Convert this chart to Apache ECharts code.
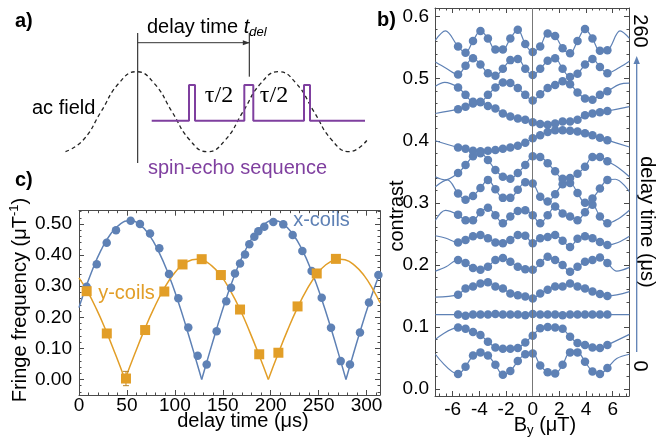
<!DOCTYPE html>
<html>
<head>
<meta charset="utf-8">
<title>Spin-echo fringe analysis</title>
<script src="https://cdn.jsdelivr.net/npm/echarts@6.0.0/dist/echarts.min.js"></script>
<style>
  html, body { margin: 0; padding: 0; background: #ffffff; }
  #chart { width: 668px; height: 439px; }
</style>
</head>
<body>
<div id="chart"></div>
<script>
// ---------------- data ----------------

// (b) field scan positions (μT)
const fieldB = [-5.6, -5.04, -4.48, -3.92, -3.36, -2.8, -2.24, -1.68, -1.12, -0.56, 0,
                0.56, 1.12, 1.68, 2.24, 2.8, 3.36, 3.92, 4.48, 5.04, 5.6];
// delay time of each trace (μs), bottom to top
const delayTimes = [0, 20, 40, 60, 80, 100, 120, 140, 160, 180, 200, 220, 240, 260];

// contrast (traces are offset upward by delay)
const contrast000 = [0.024, 0.036, 0.054, 0.059, 0.054, 0.039, 0.023, 0.029, 0.045, 0.056, 0.057, 0.038, 0.027, 0.025, 0.039, 0.059, 0.059, 0.044, 0.028, 0.024, 0.034];
const contrast020 = [0.099, 0.097, 0.092, 0.087, 0.076, 0.067, 0.065, 0.065, 0.066, 0.075, 0.086, 0.098, 0.100, 0.099, 0.097, 0.084, 0.074, 0.071, 0.067, 0.066, 0.071];
const contrast040 = [0.120, 0.118, 0.120, 0.120, 0.120, 0.121, 0.120, 0.120, 0.120, 0.119, 0.121, 0.120, 0.120, 0.120, 0.119, 0.120, 0.120, 0.120, 0.120, 0.120, 0.120];
const contrast060 = [0.152, 0.162, 0.165, 0.170, 0.172, 0.165, 0.162, 0.154, 0.151, 0.149, 0.146, 0.154, 0.160, 0.165, 0.165, 0.170, 0.165, 0.162, 0.157, 0.153, 0.150];
const contrast080 = [0.208, 0.203, 0.195, 0.192, 0.197, 0.208, 0.211, 0.205, 0.197, 0.193, 0.192, 0.203, 0.213, 0.208, 0.200, 0.189, 0.197, 0.205, 0.208, 0.212, 0.203];
const contrast100 = [0.236, 0.240, 0.246, 0.248, 0.243, 0.236, 0.235, 0.240, 0.248, 0.247, 0.235, 0.243, 0.245, 0.248, 0.239, 0.229, 0.242, 0.246, 0.243, 0.237, 0.232];
const contrast120 = [0.281, 0.272, 0.272, 0.285, 0.292, 0.280, 0.267, 0.278, 0.287, 0.288, 0.280, 0.267, 0.280, 0.294, 0.283, 0.278, 0.272, 0.285, 0.297, 0.278, 0.267];
const contrast140 = [0.315, 0.305, 0.311, 0.324, 0.337, 0.322, 0.308, 0.308, 0.321, 0.333, 0.331, 0.310, 0.302, 0.314, 0.330, 0.332, 0.316, 0.300, 0.307, 0.323, 0.337];
const contrast160 = [0.348, 0.361, 0.375, 0.380, 0.369, 0.353, 0.342, 0.339, 0.348, 0.361, 0.375, 0.374, 0.364, 0.351, 0.339, 0.340, 0.347, 0.358, 0.374, 0.374, 0.367];
const contrast180 = [0.389, 0.387, 0.384, 0.383, 0.384, 0.385, 0.387, 0.389, 0.392, 0.397, 0.404, 0.409, 0.414, 0.417, 0.417, 0.416, 0.415, 0.412, 0.409, 0.405, 0.401];
const contrast200 = [0.451, 0.455, 0.460, 0.462, 0.456, 0.452, 0.444, 0.439, 0.436, 0.434, 0.430, 0.427, 0.426, 0.428, 0.431, 0.431, 0.434, 0.441, 0.444, 0.446, 0.448];
const contrast220 = [0.486, 0.474, 0.463, 0.463, 0.474, 0.486, 0.494, 0.493, 0.485, 0.474, 0.465, 0.475, 0.485, 0.490, 0.496, 0.491, 0.478, 0.468, 0.466, 0.474, 0.480];
const contrast240 = [0.507, 0.521, 0.533, 0.523, 0.509, 0.505, 0.516, 0.530, 0.532, 0.516, 0.506, 0.516, 0.529, 0.533, 0.516, 0.503, 0.508, 0.523, 0.532, 0.519, 0.509];
const contrast260 = [0.552, 0.542, 0.561, 0.577, 0.565, 0.547, 0.547, 0.565, 0.579, 0.556, 0.543, 0.552, 0.573, 0.569, 0.549, 0.541, 0.561, 0.580, 0.565, 0.545, 0.546];
const contrastTraces = [contrast000, contrast020, contrast040, contrast060, contrast080, contrast100, contrast120,
                        contrast140, contrast160, contrast180, contrast200, contrast220, contrast240, contrast260];

// fitted fringe curves continue past the outermost points: [B, contrast]
const fitTailLeft = [
  [[-7.3, 0.056]], [[-7.3, 0.080]], [[-7.3, 0.120]], [[-7.3, 0.148]],
  [[-7.3, 0.190], [-6.5, 0.197]], [[-7.3, 0.247], [-6.5, 0.243]], [[-7.3, 0.272], [-6.55, 0.288]],
  [[-7.3, 0.326], [-6.4, 0.337]], [[-7.3, 0.342], [-6.6, 0.337]], [[-7.3, 0.400]],
  [[-7.3, 0.444]], [[-7.3, 0.488], [-6.6, 0.494]], [[-7.3, 0.527], [-6.5, 0.517]], [[-7.3, 0.562], [-6.55, 0.577]]
];
const fitTailRight = [
  [[6.3, 0.049], [7.25, 0.056]], [[7.25, 0.088]], [[7.25, 0.120]], [[7.25, 0.157]],
  [[6.3, 0.190], [7.25, 0.196]], [[6.4, 0.236], [7.25, 0.246]], [[6.4, 0.274], [7.25, 0.288]],
  [[6.2, 0.338], [7.25, 0.318]], [[6.4, 0.357], [7.25, 0.342]], [[7.25, 0.390]],
  [[7.25, 0.455]], [[6.5, 0.491], [7.25, 0.493]], [[6.5, 0.518], [7.25, 0.528]], [[6.55, 0.577], [7.25, 0.565]]
];

// (c) fringe frequency (μT^-1) vs delay time (μs)
const xCoilDelay = [8.0, 18.5, 28.9, 38.6, 53.9, 63.6, 74.1, 83.8, 93.9, 103.6, 114.0, 123.8, 133.2, 143.6, 153.6,
                    158.6, 162.7, 168.0, 173.2, 177.7, 182.9, 187.1, 193.3, 202.7, 213.1, 222.9, 233.0, 242.7,
                    253.2, 262.9, 273.0, 282.7, 293.1, 302.5, 312.3];
const xCoilFreq  = [0.298, 0.371, 0.440, 0.480, 0.511, 0.500, 0.470, 0.422, 0.339, 0.261, 0.167, 0.076, 0.048, 0.155, 0.252,
                    0.295, 0.341, 0.373, 0.402, 0.435, 0.459, 0.477, 0.491, 0.507, 0.499, 0.465, 0.413, 0.349,
                    0.263, 0.166, 0.059, 0.048, 0.151, 0.248, 0.336];
const yCoilDelay = [8, 29, 49, 69, 89, 108, 128, 148, 168, 188, 208, 228, 248, 268];
const yCoilFreq  = [0.284, 0.148, 0.003, 0.159, 0.283, 0.370, 0.387, 0.336, 0.225, 0.081, 0.086, 0.235, 0.341, 0.388];
const yCoilErr   = [0.006, 0.006, 0.023, 0.006, 0.006, 0.006, 0.006, 0.006, 0.006, 0.006, 0.006, 0.006, 0.006, 0.006];

// fitted |sinusoid| curves, one array per arch between the zero cusps: [delay, frequency]
const xCoilFit1 = [[0, 0.231], [3, 0.260], [13, 0.345], [23, 0.416], [33, 0.468], [43, 0.500], [53, 0.511], [63, 0.499],
                   [73, 0.466], [83, 0.412], [93, 0.341], [103, 0.255], [113, 0.157], [123, 0.053], [128, 0]];
const xCoilFit2 = [[128, 0], [133, 0.053], [143, 0.157], [153, 0.255], [163, 0.341], [173, 0.412], [183, 0.466],
                   [193, 0.499], [203, 0.511], [213, 0.500], [223, 0.468], [233, 0.416], [243, 0.345], [253, 0.260],
                   [263, 0.163], [273, 0.059], [278.5, 0]];
const xCoilFit3 = [[278.5, 0], [283, 0.048], [293, 0.152], [303, 0.249], [314, 0.344]];
const yCoilFit1 = [[0, 0.327], [8, 0.288], [18, 0.228], [28, 0.158], [38, 0.081], [48, 0]];
const yCoilFit2 = [[48, 0], [58, 0.081], [68, 0.158], [78, 0.228], [88, 0.288], [98, 0.336], [108, 0.369], [118, 0.385],
                   [123, 0.387], [128, 0.385], [138, 0.367], [148, 0.334], [158, 0.285], [168, 0.225], [178, 0.154],
                   [188, 0.077], [197.5, 0]];
const yCoilFit3 = [[197.5, 0], [207.5, 0.081], [217.5, 0.158], [227.5, 0.228], [237.5, 0.288], [247.5, 0.336],
                   [257.5, 0.369], [267.5, 0.385], [272.3, 0.387], [277.5, 0.385], [287.5, 0.367], [297.5, 0.334],
                   [307.5, 0.285], [314, 0.247]];

// tick values
const cDelayMajor = [0, 50, 100, 150, 200, 250, 300];
const cDelayMinor = [10, 20, 30, 40, 60, 70, 80, 90, 110, 120, 130, 140, 160, 170, 180, 190, 210, 220, 230, 240, 260, 270, 280, 290, 310];
const cFreqMajor = [0, 0.1, 0.2, 0.3, 0.4, 0.5];
const cFreqMinor = [-0.04, -0.02, 0.02, 0.04, 0.06, 0.08, 0.12, 0.14, 0.16, 0.18, 0.22, 0.24, 0.26, 0.28, 0.32, 0.34, 0.36, 0.38, 0.42, 0.44, 0.46, 0.48, 0.52, 0.54];
const bFieldMajor = [-6, -4, -2, 0, 2, 4, 6];
const bFieldMinor = [-7, -6.5, -5.5, -5, -4.5, -3.5, -3, -2.5, -1.5, -1, -0.5, 0.5, 1, 1.5, 2.5, 3, 3.5, 4.5, 5, 5.5, 6.5, 7];
const bContrastMajor = [0, 0.1, 0.2, 0.3, 0.4, 0.5, 0.6];
const bContrastMinor = [0.02, 0.04, 0.06, 0.08, 0.12, 0.14, 0.16, 0.18, 0.22, 0.24, 0.26, 0.28, 0.32, 0.34, 0.36, 0.38, 0.42, 0.44, 0.46, 0.48, 0.52, 0.54, 0.56, 0.58];

// (a) schematic, time in quarter periods of the ac field
const acPhase = [-2, -1.5, -1, -0.5, 0, 0.5, 1, 1.5, 2, 2.5, 3, 3.5, 4, 4.5, 5, 5.5, 6, 6.5];
const acField = [-1, -0.707, 0, 0.707, 1, 0.707, 0, -0.707, -1, -0.707, 0, 0.707, 1, 0.707, 0, -0.707, -1, -0.707];
const pulseTime  = [0.428, 1.479, 1.479, 1.648, 1.648, 3.037, 3.037, 3.29, 3.29, 4.718, 4.718, 4.887, 4.887, 6.437];
const pulseLevel = [-0.225, -0.225, 0.6675, 0.6675, -0.225, -0.225, 0.6675, 0.6675, -0.225, -0.225, 0.6675, 0.6675, -0.225, -0.225];
const delayStart = [[0.034, 1.9675], [0.034, -1.2825]];
const delayEnd = [[3.177, 1.9675], [3.177, 0.875]];
const delaySpan = [[0.034, 1.725], [3.177, 1.725]];

// ---------------- styling ----------------
const FONT = '"Liberation Sans", Arial, Helvetica, sans-serif';
const SERIF = '"Liberation Serif", "Times New Roman", serif';
const BLUE = '#5e81b5';
const ORANGE = '#e29e27';
const PURPLE = '#7f3f9f';
const FRAME = '#4a4a4a';

function axisPair(grid, position, range, majors, minors, label) {
  const common = {
    type: 'value', gridIndex: grid, position: position, min: range[0], max: range[1],
    splitLine: { show: false }, axisPointer: { show: false }, silent: true
  };
  const major = Object.assign({}, common, {
    axisLine: { show: true, onZero: false, lineStyle: { color: FRAME, width: 1 } },
    axisTick: { show: true, inside: true, length: 5, customValues: majors, lineStyle: { color: FRAME, width: 1 } },
    axisLabel: label
      ? Object.assign({ show: true, customValues: majors, color: '#000', fontSize: 19, fontFamily: FONT }, label)
      : { show: false }
  });
  const minor = Object.assign({}, common, {
    axisLine: { show: false, onZero: false },
    axisTick: { show: true, inside: true, length: 2.5, customValues: minors, lineStyle: { color: FRAME, width: 1 } },
    axisLabel: { show: false }
  });
  return [major, minor];
}

const cDelayRange = [0, 314];
const cFreqRange = [-0.05, 0.543];
const bFieldRange = [-7.33, 7.22];
const bContrastRange = [-0.0113, 0.614];

const xAxes = [
  { type: 'value', gridIndex: 0, min: -2.1, max: 6.6, show: false },
  ...axisPair(1, 'bottom', cDelayRange, cDelayMajor, cDelayMinor, { margin: 1, formatter: v => String(v) }),
  ...axisPair(1, 'top', cDelayRange, cDelayMajor, cDelayMinor, null),
  ...axisPair(2, 'bottom', bFieldRange, bFieldMajor, bFieldMinor, { margin: 4, formatter: v => String(v) }),
  ...axisPair(2, 'top', bFieldRange, bFieldMajor, bFieldMinor, null)
];
const yAxes = [
  { type: 'value', gridIndex: 0, min: -1.35, max: 2.05, show: false },
  ...axisPair(1, 'left', cFreqRange, cFreqMajor, cFreqMinor, { margin: 7, formatter: v => v.toFixed(2) }),
  ...axisPair(1, 'right', cFreqRange, cFreqMajor, cFreqMinor, null),
  ...axisPair(2, 'left', bContrastRange, bContrastMajor, bContrastMinor, { margin: 6, formatter: v => v.toFixed(1) }),
  ...axisPair(2, 'right', bContrastRange, bContrastMajor, bContrastMinor, null)
];

const series = [];

// (a) ac field and pulse sequence
series.push({
  type: 'line', xAxisIndex: 0, yAxisIndex: 0, smooth: true, showSymbol: false, silent: true,
  data: acPhase.map((t, i) => [t, acField[i]]),
  lineStyle: { color: '#222', width: 1.3, type: [4, 3] }
});
series.push({
  type: 'line', xAxisIndex: 0, yAxisIndex: 0, showSymbol: false, silent: true,
  data: pulseTime.map((t, i) => [t, pulseLevel[i]]),
  lineStyle: { color: PURPLE, width: 2 }
});
[delayStart, delayEnd].forEach(seg => series.push({
  type: 'line', xAxisIndex: 0, yAxisIndex: 0, showSymbol: false, silent: true,
  data: seg, lineStyle: { color: '#111', width: 1 }
}));
series.push({
  type: 'line', xAxisIndex: 0, yAxisIndex: 0, silent: true,
  data: [
    { value: delaySpan[0], symbol: 'none' },
    { value: delaySpan[1], symbol: 'triangle', symbolSize: [5, 7], symbolRotate: -90, symbolOffset: [-3, 0] }
  ],
  itemStyle: { color: '#333' },
  lineStyle: { color: '#333', width: 1 }
});

// (c) fitted curves
[xCoilFit1, xCoilFit2, xCoilFit3].forEach(arch => series.push({
  type: 'line', xAxisIndex: 1, yAxisIndex: 1, data: arch, smooth: true, showSymbol: false, silent: true,
  lineStyle: { color: BLUE, width: 1.5 }, z: 2
}));
[yCoilFit1, yCoilFit2, yCoilFit3].forEach(arch => series.push({
  type: 'line', xAxisIndex: 1, yAxisIndex: 1, data: arch, smooth: true, showSymbol: false, silent: true,
  lineStyle: { color: ORANGE, width: 1.5 }, z: 2
}));
// (c) error bars of the y-coil points
series.push({
  type: 'custom', xAxisIndex: 1, yAxisIndex: 1, silent: true, z: 3,
  encode: { x: 0, y: 1 },
  data: yCoilDelay.map((t, i) => [t, yCoilFreq[i], yCoilErr[i]]),
  renderItem: (params, api) => {
    const t = api.value(0), f = api.value(1), e = api.value(2);
    const hi = api.coord([t, f + e]);
    const lo = api.coord([t, f - e]);
    const st = { stroke: '#b8852a', lineWidth: 1 };
    return {
      type: 'group', children: [
        { type: 'line', shape: { x1: hi[0], y1: hi[1], x2: lo[0], y2: lo[1] }, style: st },
        { type: 'line', shape: { x1: hi[0] - 3, y1: hi[1], x2: hi[0] + 3, y2: hi[1] }, style: st },
        { type: 'line', shape: { x1: lo[0] - 3, y1: lo[1], x2: lo[0] + 3, y2: lo[1] }, style: st }
      ]
    };
  }
});
series.push({
  type: 'scatter', name: 'x-coils', xAxisIndex: 1, yAxisIndex: 1, symbol: 'circle', symbolSize: 8.5,
  data: xCoilDelay.map((t, i) => [t, xCoilFreq[i]]), itemStyle: { color: BLUE, opacity: 1 }, z: 4, silent: true
});
series.push({
  type: 'scatter', name: 'y-coils', xAxisIndex: 1, yAxisIndex: 1, symbol: 'rect', symbolSize: 10,
  data: yCoilDelay.map((t, i) => [t, yCoilFreq[i]]), itemStyle: { color: ORANGE, opacity: 1 }, z: 4, silent: true
});

// (b) contrast traces with their fitted fringe curves
contrastTraces.forEach((trace, i) => {
  const pts = [];
  fitTailLeft[i].forEach(p => pts.push({ value: p, symbol: 'none' }));
  fieldB.forEach((b, k) => pts.push([b, trace[k]]));
  fitTailRight[i].forEach(p => pts.push({ value: p, symbol: 'none' }));
  const s = {
    type: 'line', name: delayTimes[i] + ' μs', xAxisIndex: 5, yAxisIndex: 5, data: pts,
    smooth: 0.35, symbol: 'circle', symbolSize: 8.5, showSymbol: true, silent: true,
    itemStyle: { color: BLUE, opacity: 1 }, lineStyle: { color: BLUE, width: 1.2 }, z: 3
  };
  if (i === 0) {
    s.markLine = {
      silent: true, symbol: 'none', label: { show: false },
      lineStyle: { color: '#777', width: 1, type: 'solid' },
      data: [{ xAxis: 0 }]
    };
  }
  series.push(s);
});

// ---------------- annotation text ----------------
function label(text, x, y, opts) {
  return Object.assign({
    type: 'text', x: x, y: y, silent: true,
    style: Object.assign({
      text: text, fill: '#000', fontSize: 20, fontFamily: FONT,
      align: 'center', verticalAlign: 'middle'
    }, (opts && opts.style) || {})
  }, opts && opts.rotation !== undefined ? { rotation: opts.rotation } : {});
}
const main = { fontSize: 20, fontFamily: FONT, fill: '#000', lineHeight: 24, verticalAlign: 'middle' };
const sub = { fontSize: 13, fontFamily: FONT, fill: '#000', lineHeight: 13, verticalAlign: 'bottom' };
const sup = { fontSize: 13, fontFamily: FONT, fill: '#000', lineHeight: 13, verticalAlign: 'top' };

const graphics = [
  label('a)', 15, 21, { style: { fontWeight: 'bold', align: 'left' } }),
  label('b)', 377, 20, { style: { fontWeight: 'bold', align: 'left' } }),
  label('c)', 15, 180, { style: { fontWeight: 'bold', align: 'left' } }),
  label('{m|delay time }{i|t}{s|del}', 147, 27, { style: {
    align: 'left',
    rich: {
      m: main,
      i: Object.assign({}, main, { fontStyle: 'italic' }),
      s: Object.assign({}, sub, { fontStyle: 'italic' })
    }
  } }),
  label('ac field', 32, 108, { style: { align: 'left' } }),
  label('τ/2', 219, 96, { style: { fontFamily: SERIF, fontSize: 24 } }),
  label('τ/2', 274, 96, { style: { fontFamily: SERIF, fontSize: 24 } }),
  label('spin-echo sequence', 148, 168, { style: { align: 'left', fill: PURPLE } }),
  label('{m|Fringe frequency (μT}{p|-1}{m|)}', 20, 300, { rotation: Math.PI / 2, style: { rich: { m: main, p: sup } } }),
  label('delay time (μs)', 243, 421),
  label('x-coils', 321.5, 220, { style: { fill: BLUE } }),
  label('y-coils', 126.5, 293, { style: { fill: ORANGE } }),
  label('contrast', 397, 216, { rotation: Math.PI / 2 }),
  label('{m|B}{s|y}{m| (μT)}', 545, 425, { style: { rich: { m: main, s: sub } } }),
  label('delay time (μs)', 647, 222, { rotation: -Math.PI / 2 }),
  label('260', 640, 31, { rotation: -Math.PI / 2 }),
  label('0', 640, 366, { rotation: -Math.PI / 2 }),
  { type: 'line', silent: true, shape: { x1: 636.7, y1: 352, x2: 636.7, y2: 62 }, style: { stroke: BLUE, lineWidth: 1.3 } },
  { type: 'polygon', silent: true, shape: { points: [[636.7, 56], [633.5, 64], [639.9, 64]] }, style: { fill: BLUE } }
];

const chart = echarts.init(document.getElementById('chart'), null, { renderer: 'canvas' });
chart.setOption({
  animation: false,
  backgroundColor: '#ffffff',
  textStyle: { fontFamily: FONT },
  grid: [
    { left: 61.95, top: 29.7, width: 308.85, height: 136, outerBoundsMode: 'none' },
    { left: 79, top: 210.7, width: 301, height: 184.3, outerBoundsMode: 'none' },
    { left: 435, top: 8, width: 194, height: 388, outerBoundsMode: 'none' }
  ],
  xAxis: xAxes,
  yAxis: yAxes,
  series: series,
  graphic: { elements: graphics }
});
</script>
</body>
</html>
